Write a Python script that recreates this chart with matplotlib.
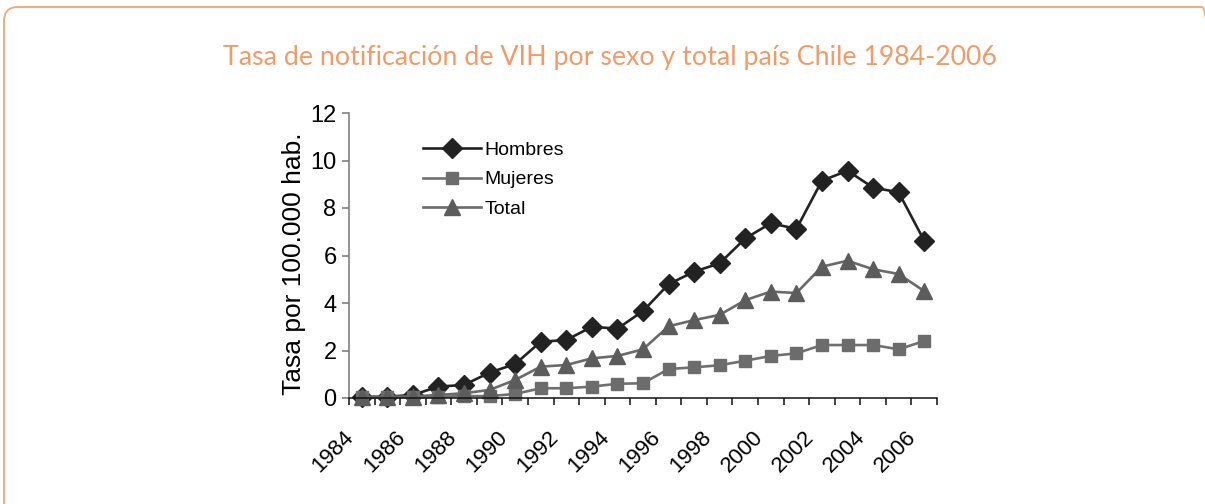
import matplotlib
matplotlib.use('Agg')
import matplotlib.pyplot as plt
from matplotlib.patches import FancyBboxPatch
from matplotlib.transforms import ScaledTranslation

anios = list(range(1984, 2007))
hombres = [0.05, 0.05, 0.13, 0.48, 0.55, 1.07, 1.43, 2.37, 2.44, 3.0, 2.92, 3.66,
           4.79, 5.32, 5.67, 6.72, 7.36, 7.12, 9.15, 9.57, 8.86, 8.66, 6.62]
mujeres = [0.03, 0.03, 0.03, 0.05, 0.08, 0.08, 0.17, 0.41, 0.41, 0.48, 0.6, 0.62,
           1.22, 1.29, 1.38, 1.57, 1.77, 1.88, 2.23, 2.23, 2.23, 2.05, 2.4]
total = [0.05, 0.05, 0.06, 0.13, 0.2, 0.34, 0.76, 1.32, 1.39, 1.67, 1.77, 2.05,
         3.02, 3.28, 3.5, 4.12, 4.48, 4.42, 5.53, 5.78, 5.42, 5.22, 4.5]
etiquetas_x = [str(a) for a in anios[::2]]
titulo = 'Tasa de notificación de VIH por sexo y total país Chile 1984-2006'

fig = plt.figure(figsize=(12.05, 5.04), dpi=100)
plt.rcParams['font.family'] = ['Liberation Sans', 'DejaVu Sans']

# marco redondeado naranja (sale por la derecha y por abajo)
marco = FancyBboxPatch((4, -13), 1212, 510, boxstyle='round,pad=0,rounding_size=14',
                       transform=None, facecolor='none', edgecolor='#f4a677',
                       linewidth=1.3, clip_on=False, zorder=-1)
fig.patches.append(marco)

fig.text(0.506, 1 - 58 / 504, titulo, ha='center', va='center', color='#f39b68',
         fontsize=19.3, family='Lato')

ax = fig.add_axes([349 / 1205, 1 - 398 / 504, 588 / 1205, 285 / 504])
ax.patch.set_alpha(0)
x = list(range(len(anios)))
ax.plot(x, hombres, color='#222222', lw=1.9, marker='D', ms=10, mfc='#222222',
        mec='#222222', label='Hombres')
ax.plot(x, mujeres, color='#707070', lw=1.9, marker='s', ms=9, mfc='#6c6c6c',
        mec='#6c6c6c', label='Mujeres')
ax.plot(x, total, color='#6a6a6a', lw=1.9, marker='^', ms=11, mfc='#5c5c5c',
        mec='#5c5c5c', label='Total')

ax.set_xlim(-0.5, len(anios) - 0.5)
ax.set_ylim(0, 12)
ax.set_yticks(range(0, 13, 2))
ax.tick_params(axis='y', labelsize=17, length=5, width=1.1, color='#777777', pad=4)

ax.set_xticks(x[::2])
ax.set_xticklabels(etiquetas_x, rotation=45, ha='right', va='center',
                   rotation_mode='anchor', fontsize=16)
ax.set_xticks([i - 0.5 for i in range(len(anios) + 1)], minor=True)
ax.tick_params(axis='x', which='major', length=0, pad=26)
ax.tick_params(axis='x', which='minor', length=5, width=1.1, color='#111111')
for lab in ax.get_xticklabels():
    lab.set_transform(lab.get_transform() + ScaledTranslation(-0.11, 0, fig.dpi_scale_trans))

for lado in ['top', 'right']:
    ax.spines[lado].set_visible(False)
ax.spines['left'].set_color('#777777')
ax.spines['left'].set_linewidth(1.1)
ax.spines['bottom'].set_color('#111111')
ax.spines['bottom'].set_linewidth(1.1)
for m in ax.lines:
    m.set_clip_on(False)

ax.set_ylabel('Tasa por 100.000 hab.', fontsize=19)
ax.yaxis.set_label_coords(-0.073, 0.472)

ax.legend(loc='upper left', bbox_to_anchor=(0.126, 0.902), frameon=False,
          fontsize=14, handlelength=3.0, handletextpad=0.15, labelspacing=0.63,
          borderpad=0, borderaxespad=0)

fig.savefig('out.png', dpi=100)
